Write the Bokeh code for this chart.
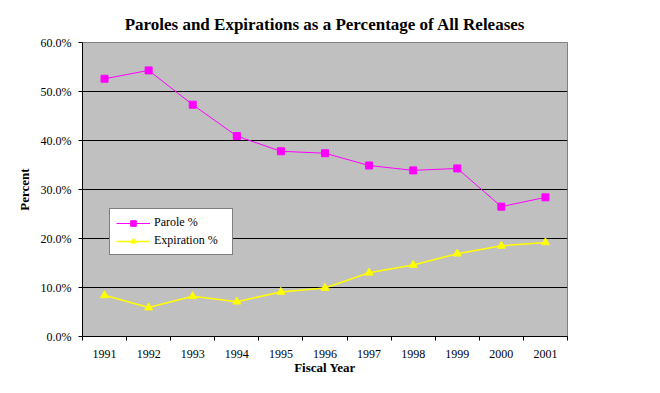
from bokeh.plotting import figure
from bokeh.models import Range1d, FixedTicker, PrintfTickFormatter, ColumnDataSource, Legend, LegendItem
from bokeh.embed import file_html
from bokeh.resources import INLINE

# ---- data ----
years = ["1991", "1992", "1993", "1994", "1995", "1996", "1997", "1998", "1999", "2000", "2001"]
parole_pct = [52.6, 54.3, 47.3, 40.9, 37.8, 37.4, 34.9, 33.9, 34.3, 26.5, 28.4]
expiration_pct = [8.4, 5.9, 8.2, 7.1, 9.1, 9.9, 13.0, 14.6, 16.9, 18.5, 19.2]
y_ticks = [0, 10, 20, 30, 40, 50, 60]

xpos = [i + 0.5 for i in range(len(years))]
src = ColumnDataSource(dict(x=xpos, parole=parole_pct, expiration=expiration_pct))

SERIF = "Liberation Serif"

p = figure(width=652, height=385, output_backend="svg", toolbar_location=None,
           x_range=Range1d(0, len(years)), y_range=Range1d(0, 60),
           min_border_left=82, min_border_right=85, min_border_top=42, min_border_bottom=49,
           title="Paroles and Expirations as a Percentage of All Releases")

p.background_fill_color = "#C0C0C0"
p.border_fill_color = "#FFFFFF"
p.outline_line_color = "#808080"
p.outline_line_width = 1

p.title.text_font = SERIF
p.title.text_font_size = "17px"
p.title.text_font_style = "bold"
p.title.align = "center"
p.title.text_color = "#000000"
p.title.standoff = 18
p.title.offset = 6

# x axis: tick marks at category boundaries, labels at centres
p.xaxis.ticker = FixedTicker(ticks=xpos, minor_ticks=list(range(len(years) + 1)))
p.xaxis.major_label_overrides = {x: y for x, y in zip(xpos, years)}
p.xaxis.major_tick_out = 0
p.xaxis.major_tick_in = 0
p.xaxis.minor_tick_out = 4
p.xaxis.minor_tick_in = 0
p.xaxis.minor_tick_line_color = "#000000"
p.xaxis.axis_label = "Fiscal Year"
p.xaxis.major_label_standoff = 9

# y axis
p.yaxis.ticker = FixedTicker(ticks=y_ticks, minor_ticks=[])
p.yaxis.formatter = PrintfTickFormatter(format="%.1f%%")
p.yaxis.major_tick_out = 4
p.yaxis.major_tick_in = 0
p.yaxis.axis_label = "Percent"
p.yaxis.major_label_standoff = 7

for ax in (p.xaxis[0], p.yaxis[0]):
    ax.axis_line_color = "#000000"
    ax.major_tick_line_color = "#000000"
    ax.major_label_text_font = SERIF
    ax.major_label_text_font_size = "12px"
    ax.major_label_text_color = "#000000"
    ax.axis_label_text_font = SERIF
    ax.axis_label_text_font_size = "13px"
    ax.axis_label_text_font_style = "bold"
    ax.axis_label_text_color = "#000000"
p.xaxis.axis_label_standoff = -1
p.yaxis.axis_label_standoff = 6

p.xgrid.visible = False
p.ygrid.ticker = FixedTicker(ticks=y_ticks[1:-1])
p.ygrid.grid_line_color = "#000000"
p.ygrid.grid_line_width = 1

r1 = p.line("x", "parole", source=src, line_color="#FF00FF", line_width=1)
r2 = p.scatter("x", "parole", source=src, marker="square", size=7,
               fill_color="#FF00FF", line_color="#FF00FF")
r3 = p.line("x", "expiration", source=src, line_color="#FFFF00", line_width=1.5)
r4 = p.scatter("x", "expiration", source=src, marker="triangle", size=8,
               fill_color="#FFFF00", line_color="#FFFF00")

legend = Legend(items=[LegendItem(label="Parole %", renderers=[r1, r2]),
                       LegendItem(label="Expiration %", renderers=[r3, r4])],
                location=(27, 81), orientation="vertical",
                padding=6, spacing=3, glyph_width=34, glyph_height=14,
                label_height=14, label_width=72, label_standoff=4, margin=0,
                background_fill_color="#FFFFFF", background_fill_alpha=1,
                border_line_color="#000000", border_line_width=1,
                label_text_font=SERIF, label_text_font_size="12px",
                label_text_color="#000000")
p.add_layout(legend, "center")

open("out.html", "w").write(file_html(p, INLINE))
